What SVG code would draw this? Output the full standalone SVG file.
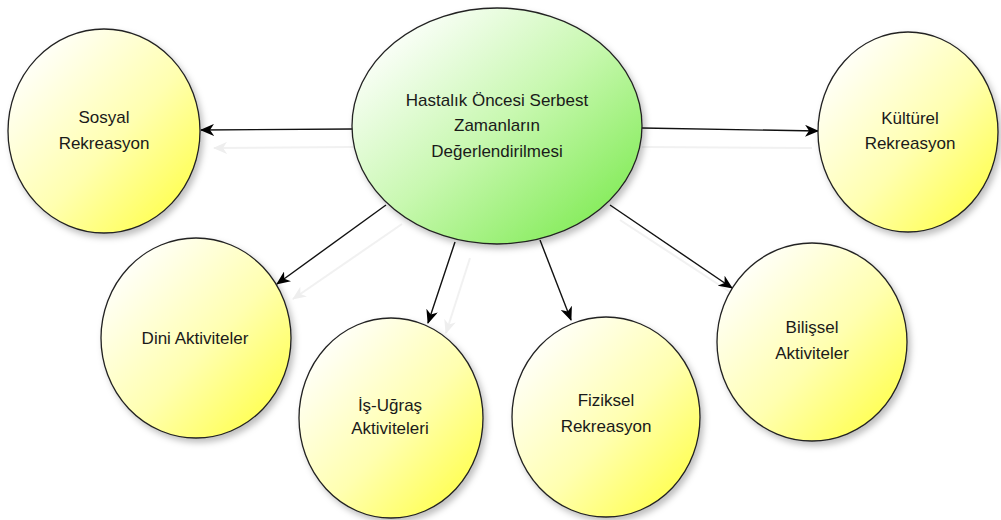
<svg xmlns="http://www.w3.org/2000/svg" width="1001" height="520" viewBox="0 0 1001 520">
<style>
.lbl{font-family:"Liberation Sans",Arial,sans-serif;font-size:17px;fill:#1a1a1a;text-anchor:middle}
.node{stroke:#222;stroke-width:1.3}
.conn{stroke:#111;stroke-width:1.4;fill:none}
.ghost{stroke:#f1f1f1;stroke-width:2;fill:none}
</style>
<defs>
<linearGradient id="gy" x1="0" y1="0" x2="1" y2="1">
<stop offset="0.1" stop-color="#ffffff"/>
<stop offset="0.55" stop-color="#ffffb0"/>
<stop offset="1" stop-color="#ffff33"/>
</linearGradient>
<linearGradient id="gg" x1="0" y1="0" x2="1" y2="1">
<stop offset="0.1" stop-color="#ffffff"/>
<stop offset="0.5" stop-color="#c8f8b0"/>
<stop offset="1" stop-color="#70e840"/>
</linearGradient>
<filter id="sh" x="-20%" y="-20%" width="150%" height="150%">
<feDropShadow dx="3" dy="4" stdDeviation="3" flood-color="#000" flood-opacity="0.25"/>
</filter>
<marker id="ah" viewBox="0 0 14 12" refX="13" refY="6" markerWidth="14" markerHeight="12" markerUnits="userSpaceOnUse" orient="auto">
<path d="M0,0 L14,6 L0,12 L4,6 Z" fill="#000"/>
</marker>
<marker id="ahg" viewBox="0 0 14 12" refX="13" refY="6" markerWidth="14" markerHeight="12" markerUnits="userSpaceOnUse" orient="auto">
<path d="M0,0 L14,6 L0,12 L4,6 Z" fill="#eeeeee"/>
</marker>
</defs>
<rect width="1001" height="520" fill="#fff"/>
<g id="connectors">
<line class="ghost" x1="353" y1="147" x2="214" y2="148" marker-end="url(#ahg)"/>
<line class="ghost" x1="402" y1="224" x2="293" y2="299" marker-end="url(#ahg)"/>
<line class="ghost" x1="470" y1="258" x2="446" y2="333" marker-end="url(#ahg)"/>
<line class="ghost" x1="642" y1="147" x2="812" y2="148"/>
<line class="ghost" x1="620" y1="220" x2="730" y2="292"/>
<line class="conn" x1="353" y1="129" x2="201" y2="130" marker-end="url(#ah)"/>
<line class="conn" x1="642" y1="128" x2="818" y2="131" marker-end="url(#ah)"/>
<line class="conn" x1="386" y1="205" x2="277" y2="284" marker-end="url(#ah)"/>
<line class="conn" x1="455" y1="242" x2="428" y2="323" marker-end="url(#ah)"/>
<line class="conn" x1="540" y1="240" x2="571" y2="320" marker-end="url(#ah)"/>
<line class="conn" x1="610" y1="205" x2="732" y2="288" marker-end="url(#ah)"/>
</g>
<g id="center">
<ellipse class="node" cx="497" cy="126" rx="145" ry="118" fill="url(#gg)" filter="url(#sh)"/>
<text class="lbl" x="497" y="106">Hastalık Öncesi Serbest</text>
<text class="lbl" x="497" y="131">Zamanların</text>
<text class="lbl" x="497" y="157">Değerlendirilmesi</text>
</g>
<g id="sosyal">
<ellipse class="node" cx="104" cy="131" rx="96" ry="102" fill="url(#gy)" filter="url(#sh)"/>
<text class="lbl" x="104" y="123">Sosyal</text>
<text class="lbl" x="104" y="149">Rekreasyon</text>
</g>
<g id="kulturel">
<ellipse class="node" cx="908" cy="132" rx="90" ry="100" fill="url(#gy)" filter="url(#sh)"/>
<text class="lbl" x="910" y="124">Kültürel</text>
<text class="lbl" x="910" y="149">Rekreasyon</text>
</g>
<g id="dini">
<ellipse class="node" cx="196" cy="338" rx="95" ry="100" fill="url(#gy)" filter="url(#sh)"/>
<text class="lbl" x="195" y="344">Dini Aktiviteler</text>
</g>
<g id="isugras">
<ellipse class="node" cx="391" cy="418" rx="92" ry="100" fill="url(#gy)" filter="url(#sh)"/>
<text class="lbl" x="390" y="411">İş-Uğraş</text>
<text class="lbl" x="390" y="434">Aktiviteleri</text>
</g>
<g id="fiziksel">
<ellipse class="node" cx="606" cy="417" rx="94" ry="100" fill="url(#gy)" filter="url(#sh)"/>
<text class="lbl" x="606" y="406">Fiziksel</text>
<text class="lbl" x="606" y="432">Rekreasyon</text>
</g>
<g id="bilissel">
<ellipse class="node" cx="812" cy="342" rx="95" ry="99" fill="url(#gy)" filter="url(#sh)"/>
<text class="lbl" x="812" y="333">Bilişsel</text>
<text class="lbl" x="812" y="359">Aktiviteler</text>
</g>
</svg>
